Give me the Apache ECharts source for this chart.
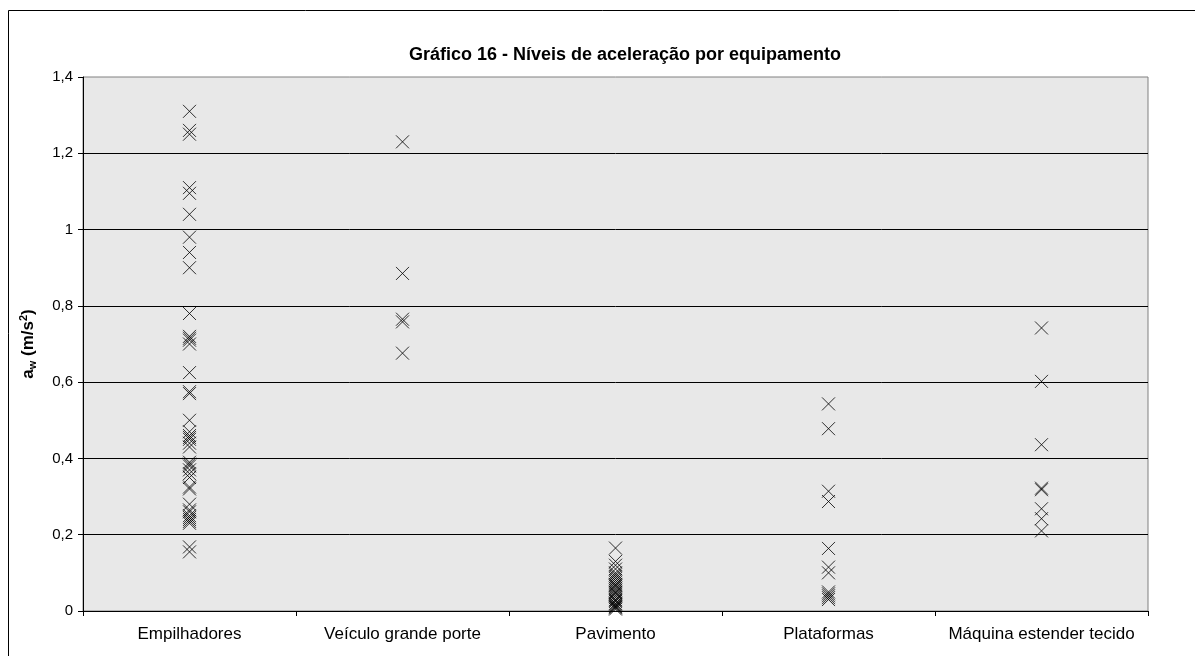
<!DOCTYPE html>
<html>
<head>
<meta charset="utf-8">
<script src="https://cdn.jsdelivr.net/npm/echarts@6/dist/echarts.min.js"></script>
<style>
	html, body { margin: 0; padding: 0; background: #fff; }
	#chart { width: 1195px; height: 656px; }
</style>
</head>
<body>
<div id="chart"></div>
<script>
var categories = ["Empilhadores", "Veículo grande porte", "Pavimento", "Plataformas", "Máquina estender tecido"];

// a_w (m/s2), por equipamento
var empilhadores = [1.31, 1.26, 1.25, 1.11, 1.095, 1.04, 0.98, 0.94, 0.90, 0.78, 0.72, 0.715, 0.71, 0.70,
	0.625, 0.575, 0.57, 0.50, 0.47, 0.46, 0.455, 0.45, 0.44, 0.43, 0.39, 0.385, 0.38, 0.37, 0.36, 0.35,
	0.325, 0.32, 0.28, 0.265, 0.26, 0.25, 0.245, 0.24, 0.235, 0.23, 0.168, 0.155];
var veiculo = [1.23, 0.885, 0.765, 0.758, 0.676];
var pavimento = [0.165, 0.13, 0.12, 0.11, 0.10, 0.095, 0.09, 0.085, 0.08, 0.075, 0.07, 0.068, 0.065, 0.06,
	0.055, 0.05, 0.048, 0.045, 0.04, 0.035, 0.03, 0.028, 0.025, 0.02, 0.018, 0.015, 0.012, 0.01, 0.008, 0.005];
var plataformas = [0.543, 0.478, 0.314, 0.287, 0.164, 0.115, 0.10, 0.05, 0.045, 0.04, 0.035, 0.03];
var maquina = [0.742, 0.602, 0.436, 0.322, 0.318, 0.268, 0.242, 0.21];

var yTicks = [0, 0.2, 0.4, 0.6, 0.8, 1, 1.2, 1.4];

var groups = [empilhadores, veiculo, pavimento, plataformas, maquina];
var points = [];
for (var i = 0; i < groups.length; i++) {
	for (var j = 0; j < groups[i].length; j++) {
		points.push([i, groups[i][j]]);
	}
}

var myChart = echarts.init(document.getElementById("chart"));

var option = {
	animation: false,
	backgroundColor: "#fff",
	textStyle: { fontFamily: "Liberation Sans, Arial, sans-serif" },
	title: {
		text: "Gráfico 16 - Níveis de aceleração por equipamento",
		left: 620,
		top: 41,
		textAlign: "center",
		textStyle: { fontSize: 18, fontWeight: "bold", color: "#000", fontFamily: "Liberation Sans, Arial, sans-serif" }
	},
	graphic: [{
		type: "rect",
		silent: true,
		shape: { x: 8.5, y: 10.5, width: 1250, height: 700 },
		style: { fill: "none", stroke: "#000", lineWidth: 1 }
	}],
	grid: {
		left: 83,
		right: 47,
		top: 77,
		bottom: 45,
		show: true,
		backgroundColor: "#e8e8e8",
		borderColor: "#808080",
		borderWidth: 1
	},
	xAxis: {
		type: "category",
		data: categories,
		boundaryGap: true,
		axisLine: { lineStyle: { color: "#000", width: 1 } },
		axisTick: { show: true, length: 5, lineStyle: { color: "#000" } },
		axisLabel: { color: "#000", fontSize: 17, margin: 15, interval: 0 },
		splitLine: { show: false }
	},
	yAxis: {
		type: "value",
		min: 0,
		max: 1.4,
		interval: 0.2,
		name: "{a|a}{sub|w}{a| (m/s}{sup|2}{a|)}",
		nameLocation: "middle",
		nameRotate: 90,
		nameGap: 45,
		nameTextStyle: {
			rich: {
				a: { fontSize: 17, fontWeight: "bold", color: "#000" },
				sub: { fontSize: 11, fontWeight: "bold", color: "#000", padding: [9, 0, 0, 0] },
				sup: { fontSize: 11, fontWeight: "bold", color: "#000", padding: [0, 0, 9, 0] }
			}
		},
		axisLine: { show: true, lineStyle: { color: "#000", width: 1 } },
		axisTick: { show: true, length: 5, lineStyle: { color: "#000" } },
		axisLabel: {
			color: "#000",
			fontSize: 15,
			margin: 10,
			formatter: function(v) {
				for (var k = 0; k < yTicks.length; k++) {
					if (Math.abs(yTicks[k] - v) < 1e-9) return String(yTicks[k]).replace(".", ",");
				}
				return "";
			}
		},
		splitLine: { show: true, showMaxLine: false, lineStyle: { color: "#000", width: 1 } }
	},
	series: [{
		type: "scatter",
		data: points,
		symbol: "path://M0,0L10,10M10,0L0,10",
		symbolSize: 13,
		itemStyle: { color: "none", borderColor: "#000", borderWidth: 1 },
		emphasis: { disabled: true }
	}]
};

myChart.setOption(option);
</script>
</body>
</html>
